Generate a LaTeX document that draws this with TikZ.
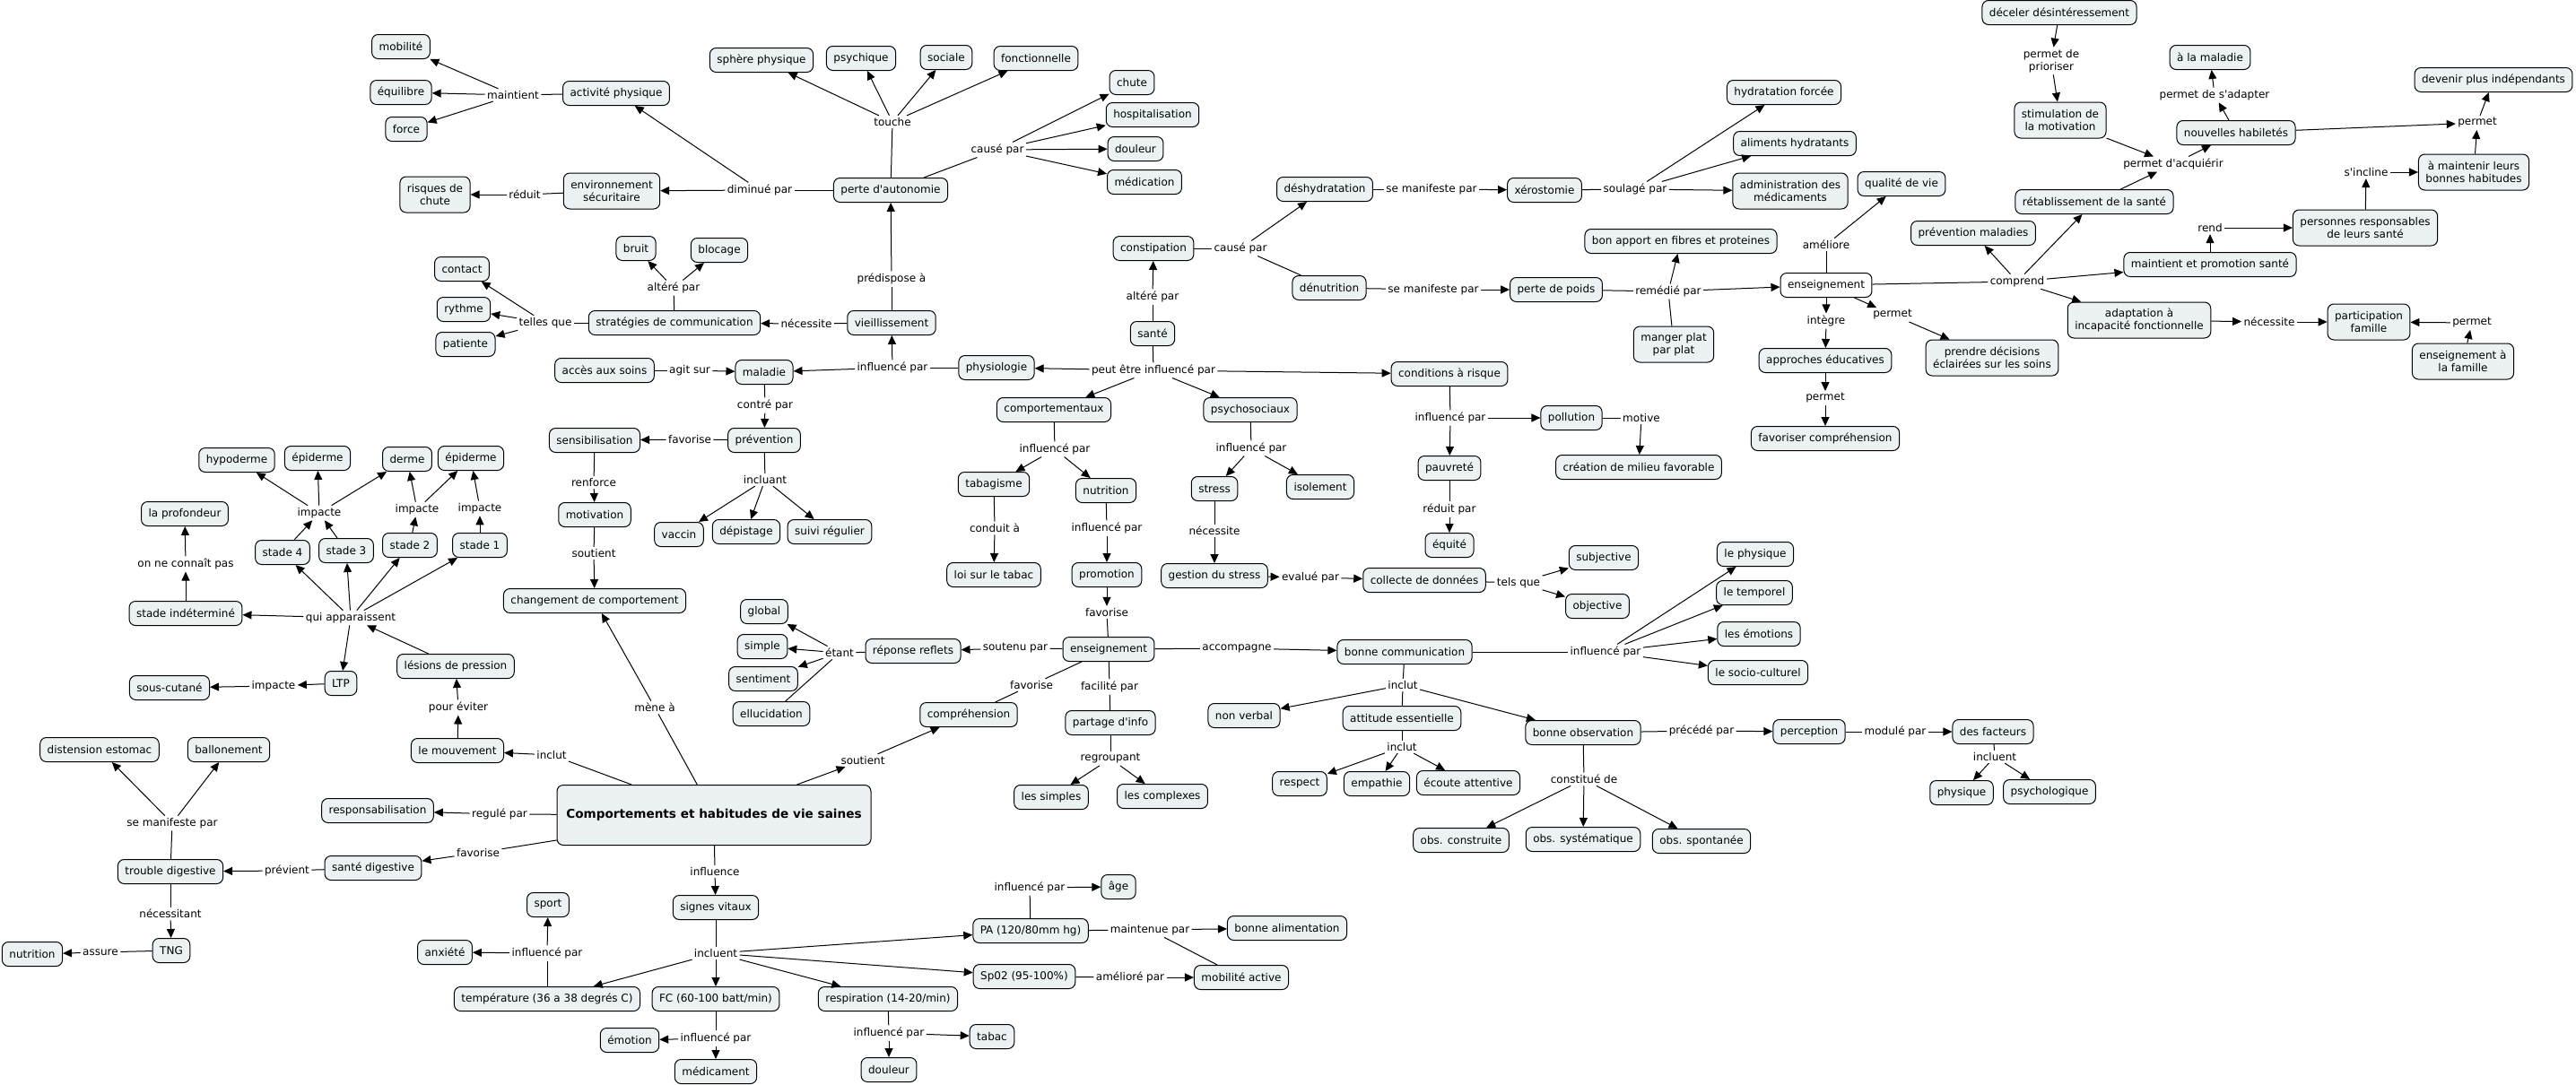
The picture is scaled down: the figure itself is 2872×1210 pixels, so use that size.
\documentclass[tikz,border=0pt]{standalone}
\usepackage{fontspec}
\setmainfont{DejaVu Sans}
\usetikzlibrary{arrows.meta}
\definecolor{cmapfill}{RGB}{236,242,244}
\begin{document}
\begin{tikzpicture}[x=0.5pt,y=-0.5pt,line width=0.5pt,
  >={Triangle[length=5pt,width=4.5pt]},
  concept/.style={draw,rounded corners=3.5pt,fill=cmapfill,inner xsep=4pt,inner ysep=2pt,
    minimum height=13.5pt,align=center,font=\fontsize{6}{7}\selectfont},
  twoline/.style={concept,minimum height=20pt},
  mainconcept/.style={concept,font=\fontsize{6.8}{8}\selectfont\bfseries,minimum width=175pt,minimum height=33.5pt},
  linkph/.style={fill=white,inner sep=1pt,align=center,font=\fontsize{6}{7}\selectfont}]
\useasboundingbox (0,0) rectangle (2872,1210);

\node[concept] (mobilite) at (447,52) {mobilité};
\node[concept] (equilibre) at (447,103) {équilibre};
\node[concept] (force) at (453,144) {force};
\node[concept] (actphys) at (687,104) {activité physique};
\node[twoline] (risques) at (485,217) {risques de\\chute};
\node[twoline] (envsec) at (682,213) {environnement\\sécuritaire};
\node[concept] (bruit) at (709,277) {bruit};
\node[concept] (blocage) at (802,279) {blocage};
\node[concept] (contact) at (515,300) {contact};
\node[concept] (rythme) at (517,345) {rythme};
\node[concept] (patiente) at (519,384) {patiente};
\node[concept] (strat) at (752,360) {stratégies de communication};
\node[concept] (sphere) at (849,67) {sphère physique};
\node[concept] (psychique) at (960,65) {psychique};
\node[concept] (sociale) at (1055,64) {sociale};
\node[concept] (fonction) at (1155,65) {fonctionnelle};
\node[concept] (chute) at (1262,92) {chute};
\node[concept] (hospit) at (1285,128) {hospitalisation};
\node[concept] (douleur) at (1266,166) {douleur};
\node[concept] (medication) at (1276,203) {médication};
\node[concept] (perteauto) at (993,212) {perte d\textquotesingle autonomie};
\node[concept] (vieil) at (994,360) {vieillissement};
\node[concept] (constip) at (1286,277) {constipation};
\node[concept] (sante) at (1285,372) {santé};
\node[concept] (physio) at (1111,410) {physiologie};
\node[concept] (acces) at (674,413) {accès aux soins};
\node[concept] (maladie) at (852,415) {maladie};
\node[concept] (prevention) at (852,491) {prévention};
\node[concept] (sensib) at (663,491) {sensibilisation};
\node[concept] (motivation) at (663,574) {motivation};
\node[concept] (changement) at (663,670) {changement de comportement};
\node[concept] (vaccin) at (757,596) {vaccin};
\node[concept] (depistage) at (832,593) {dépistage};
\node[concept] (suivi) at (925,593) {suivi régulier};
\node[concept] (comport) at (1175,457) {comportementaux};
\node[concept] (psychosoc) at (1394,457) {psychosociaux};
\node[concept] (tabagisme) at (1108,540) {tabagisme};
\node[concept] (nutrition) at (1233,547) {nutrition};
\node[concept] (stress) at (1354,545) {stress};
\node[concept] (isolement) at (1472,543) {isolement};
\node[concept] (loitabac) at (1108,641) {loi sur le tabac};
\node[concept] (promotion) at (1234,641) {promotion};
\node[concept] (gestion) at (1354,642) {gestion du stress};
\node[concept] (global) at (852,682) {global};
\node[concept] (simple) at (850,721) {simple};
\node[concept] (sentiment) at (851,757) {sentiment};
\node[concept] (ellucid) at (860,796) {ellucidation};
\node[concept] (reponse) at (1018,726) {réponse reflets};
\node[concept] (enseign) at (1236,724) {enseignement};
\node[concept] (comprehension) at (1080,797) {compréhension};
\node[concept] (partage) at (1238,806) {partage d\textquotesingle info};
\node[concept] (nonverbal) at (1387,798) {non verbal};
\node[concept] (simples) at (1172,889) {les simples};
\node[concept] (complexes) at (1296,888) {les complexes};
\node[concept] (condrisque) at (1616,417) {conditions à risque};
\node[concept] (pollution) at (1752,466) {pollution};
\node[concept] (creation) at (1827,521) {création de milieu favorable};
\node[concept] (pauvrete) at (1616,522) {pauvreté};
\node[concept] (equite) at (1616,608) {équité};
\node[concept] (collecte) at (1588,647) {collecte de données};
\node[concept] (subjective) at (1788,622) {subjective};
\node[concept] (objective) at (1781,676) {objective};
\node[concept] (lephys) at (1957,618) {le physique};
\node[concept] (letemp) at (1956,661) {le temporel};
\node[concept] (lesemo) at (1961,707) {les émotions};
\node[concept] (lesocio) at (1960,750) {le socio-culturel};
\node[concept] (bonnecomm) at (1566,727) {bonne communication};
\node[concept] (attitude) at (1563,801) {attitude essentielle};
\node[concept] (respect) at (1449,874) {respect};
\node[concept] (empathie) at (1535,874) {empathie};
\node[concept] (ecoute) at (1637,873) {écoute attentive};
\node[concept] (bonneobs) at (1765,817) {bonne observation};
\node[concept] (perception) at (2017,816) {perception};
\node[concept] (facteurs) at (2222,816) {des facteurs};
\node[concept] (physique) at (2187,884) {physique};
\node[concept] (psycholog) at (2285,883) {psychologique};
\node[concept] (obsconst) at (1629,937) {obs. construite};
\node[concept] (obssyst) at (1765,936) {obs. systématique};
\node[concept] (obsspont) at (1897,938) {obs. spontanée};
\node[concept] (deshydra) at (1477,211) {déshydratation};
\node[concept] (xerost) at (1722,212) {xérostomie};
\node[concept] (hydrat) at (1989,103) {hydratation forcée};
\node[concept] (aliments) at (2001,160) {aliments hydratants};
\node[twoline] (adminmed) at (1996,213) {administration des\\médicaments};
\node[concept] (denutri) at (1482,321) {dénutrition};
\node[concept] (perpoids) at (1735,323) {perte de poids};
\node[concept] (bonapport) at (1874,269) {bon apport en fibres et proteines};
\node[twoline] (manger) at (1866,384) {manger plat\\par plat};
\node[concept,fill=white] (enseigndr) at (2036,318) {enseignement};
\node[concept] (qualite) at (2120,205) {qualité de vie};
\node[concept] (approches) at (2035,402) {approches éducatives};
\node[concept] (favcomp) at (2035,489) {favoriser compréhension};
\node[twoline] (decisions) at (2221,399) {prendre décisions\\éclairées sur les soins};
\node[concept] (prevmal) at (2200,260) {prévention maladies};
\node[concept] (retab) at (2335,225) {rétablissement de la santé};
\node[concept] (maintprom) at (2464,295) {maintient et promotion santé};
\node[twoline] (adaptation) at (2385,357) {adaptation à\\incapacité fonctionnelle};
\node[twoline] (participation) at (2641,359) {participation\\famille};
\node[twoline] (ensfamille) at (2746,403) {enseignement à\\la famille};
\node[twoline] (personnes) at (2637,254) {personnes responsables\\de leurs santé};
\node[twoline] (amaintenir) at (2758,192) {à maintenir leurs\\bonnes habitudes};
\node[concept] (devenir) at (2780,89) {devenir plus indépendants};
\node[concept] (habiletes) at (2493,148) {nouvelles habiletés};
\node[concept] (alamaladie) at (2464,64) {à la maladie};
\node[twoline] (stimulation) at (2297,134) {stimulation de\\la motivation};
\node[concept] (deceler) at (2296,14) {déceler désintéressement};
\node[concept] (hypoderme) at (264,513) {hypoderme};
\node[concept] (epiderme) at (354,511) {épiderme};
\node[concept] (derme) at (454,512) {derme};
\node[concept] (epidermeb) at (525,511) {épiderme};
\node[concept] (profondeur) at (206,573) {la profondeur};
\node[concept] (stadeq) at (315,616) {stade 4};
\node[concept] (stadet) at (386,614) {stade 3};
\node[concept] (staded) at (457,608) {stade 2};
\node[concept] (stadeu) at (535,608) {stade 1};
\node[concept] (stadeind) at (207,684) {stade indéterminé};
\node[concept] (ltp) at (380,762) {LTP};
\node[concept] (souscut) at (189,767) {sous-cutané};
\node[concept] (lesions) at (508,743) {lésions de pression};
\node[concept] (mouvement) at (510,837) {le mouvement};
\node[concept] (distension) at (111,836) {distension estomac};
\node[concept] (ballon) at (255,836) {ballonement};
\node[concept] (respons) at (421,904) {responsabilisation};
\node[mainconcept] (main) at (796,909) {Comportements et habitudes de vie saines};
\node[concept] (santedig) at (416,968) {santé digestive};
\node[concept] (trouble) at (190,972) {trouble digestive};
\node[concept] (tng) at (191,1060) {TNG};
\node[concept] (nutritionb) at (36,1064) {nutrition};
\node[concept] (sport) at (611,1009) {sport};
\node[concept] (anxiete) at (496,1062) {anxiété};
\node[concept] (temperature) at (610,1114) {température (36 a 38 degrés C)};
\node[concept] (emotion) at (702,1160) {émotion};
\node[concept] (medicament) at (798,1195) {médicament};
\node[concept] (signes) at (798,1012) {signes vitaux};
\node[concept] (fc) at (798,1114) {FC (60-100 batt/min)};
\node[concept] (respiration) at (990,1114) {respiration (14-20/min)};
\node[concept] (tabac) at (1106,1156) {tabac};
\node[concept] (douleurb) at (991,1193) {douleur};
\node[concept] (pa) at (1149,1038) {PA (120/80mm hg)};
\node[concept] (spo) at (1142,1089) {Sp02 (95-100\%)};
\node[concept] (age) at (1247,989) {âge};
\node[concept] (bonnealim) at (1435,1035) {bonne alimentation};
\node[concept] (mobactive) at (1384,1090) {mobilité active};

\node[linkph] (lmaint) at (572,106) {maintient};
\node[linkph] (lreduit) at (585,217) {réduit};
\node[linkph] (ldimin) at (847,212) {diminué par};
\node[linkph] (ltouche) at (995,136) {touche};
\node[linkph] (lcause) at (1112,167) {causé par};
\node[linkph] (lpredis) at (994,311) {prédispose à};
\node[linkph] (lneces) at (899,361) {nécessite};
\node[linkph] (lalterea) at (751,321) {altéré par};
\node[linkph] (ltelles) at (608,360) {telles que};
\node[linkph] (linflmal) at (995,410) {influencé par};
\node[linkph] (lagit) at (769,413) {agit sur};
\node[linkph] (lpeut) at (1286,413) {peut être influencé par};
\node[linkph] (lalterb) at (1285,331) {altéré par};
\node[linkph] (lcauseb) at (1383,277) {causé par};
\node[linkph] (lcontre) at (853,452) {contré par};
\node[linkph] (lfavsens) at (769,490) {favorise};
\node[linkph] (linclu) at (853,535) {incluant};
\node[linkph] (lrenf) at (662,538) {renforce};
\node[linkph] (lsout) at (662,617) {soutient};
\node[linkph] (linflcomp) at (1176,501) {influencé par};
\node[linkph] (linflpsy) at (1395,500) {influencé par};
\node[linkph] (lconduit) at (1109,589) {conduit à};
\node[linkph] (linflnut) at (1234,589) {influencé par};
\node[linkph] (lnecstress) at (1354,592) {nécessite};
\node[linkph] (lfavprom) at (1234,683) {favorise};
\node[linkph] (levalue) at (1461,644) {evalué par};
\node[linkph] (ltelsque) at (1693,650) {tels que};
\node[linkph] (letant) at (936,728) {étant};
\node[linkph] (lsoutenu) at (1132,723) {soutenu par};
\node[linkph] (laccomp) at (1379,723) {accompagne};
\node[linkph] (lfavcomp) at (1150,764) {favorise};
\node[linkph] (lfacil) at (1237,766) {facilité par};
\node[linkph] (lregroup) at (1238,846) {regroupant};
\node[linkph] (linflcomm) at (1790,727) {influencé par};
\node[linkph] (linclutc) at (1564,764) {inclut};
\node[linkph] (linclutatt) at (1563,833) {inclut};
\node[linkph] (lprecede) at (1897,815) {précédé par};
\node[linkph] (lmodule) at (2113,816) {modulé par};
\node[linkph] (lconstit) at (1766,869) {constitué de};
\node[linkph] (lincluf) at (2224,844) {incluent};
\node[linkph] (linflcond) at (1617,466) {influencé par};
\node[linkph] (lmotive) at (1830,466) {motive};
\node[linkph] (lreduitpar) at (1616,568) {réduit par};
\node[linkph] (lmanifa) at (1596,211) {se manifeste par};
\node[linkph] (lsoulage) at (1823,211) {soulagé par};
\node[linkph] (lmanifb) at (1598,323) {se manifeste par};
\node[linkph] (lremedie) at (1860,325) {remédié par};
\node[linkph] (lameliore) at (2036,273) {améliore};
\node[linkph] (linteg) at (2036,358) {intègre};
\node[linkph] (lpermdec) at (2110,351) {permet};
\node[linkph] (lpermapp) at (2035,444) {permet};
\node[linkph] (lcomprend) at (2249,314) {comprend};
\node[linkph] (lacquer) at (2423,183) {permet d\textquotesingle acquiérir};
\node[linkph] (lprior) at (2287,68) {permet de\\prioriser};
\node[linkph] (ladapt) at (2469,106) {permet de s\textquotesingle adapter};
\node[linkph] (lpermdev) at (2762,137) {permet};
\node[linkph] (lincline) at (2638,192) {s\textquotesingle incline};
\node[linkph] (lrend) at (2464,254) {rend};
\node[linkph] (lnecfam) at (2530,359) {nécessite};
\node[linkph] (lpermfam) at (2756,360) {permet};
\node[linkph] (lmene) at (730,789) {mène à};
\node[linkph] (linclmouv) at (615,842) {inclut};
\node[linkph] (lregule) at (557,908) {regulé par};
\node[linkph] (lfavdig) at (533,951) {favorise};
\node[linkph] (lsoutmain) at (962,848) {soutient};
\node[linkph] (linfluence) at (797,972) {influence};
\node[linkph] (lincluent) at (798,1063) {incluent};
\node[linkph] (linfltemp) at (610,1063) {influencé par};
\node[linkph] (linflfc) at (798,1158) {influencé par};
\node[linkph] (linflresp) at (991,1152) {influencé par};
\node[linkph] (linflpa) at (1148,990) {influencé par};
\node[linkph] (lmaintenue) at (1282,1037) {maintenue par};
\node[linkph] (lamelio) at (1260,1090) {amélioré par};
\node[linkph] (lprevient) at (320,971) {prévient};
\node[linkph] (lmanifc) at (192,918) {se manifeste par};
\node[linkph] (lnecessitant) at (190,1019) {nécessitant};
\node[linkph] (lassure) at (112,1062) {assure};
\node[linkph] (lpourev) at (511,789) {pour éviter};
\node[linkph] (lqui) at (391,689) {qui apparaissent};
\node[linkph] (lonne) at (207,629) {on ne connaît pas};
\node[linkph] (limpltp) at (305,765) {impacte};
\node[linkph] (limpa) at (356,572) {impacte};
\node[linkph] (limpb) at (465,568) {impacte};
\node[linkph] (limpc) at (535,567) {impacte};

\draw (actphys) -- (lmaint);
\path[->] (lmaint) edge (mobilite) edge (equilibre) edge (force);
\draw (envsec) -- (lreduit);
\draw[->] (lreduit) -- (risques);
\draw (perteauto) -- (ldimin);
\path[->] (ldimin) edge (envsec) edge (actphys);
\draw (perteauto) -- (ltouche);
\path[->] (ltouche) edge (sphere) edge (psychique) edge (sociale) edge (fonction);
\draw (perteauto) -- (lcause);
\path[->] (lcause) edge (chute) edge (hospit) edge (douleur) edge (medication);
\draw (vieil) -- (lpredis);
\draw[->] (lpredis) -- (perteauto);
\draw (vieil) -- (lneces);
\draw[->] (lneces) -- (strat);
\draw (strat) -- (lalterea);
\path[->] (lalterea) edge (bruit) edge (blocage);
\draw (strat) -- (ltelles);
\path[->] (ltelles) edge (contact) edge (rythme) edge (patiente);
\draw (physio) -- (linflmal);
\path[->] (linflmal) edge (maladie) edge (vieil);
\draw (acces) -- (lagit);
\draw[->] (lagit) -- (maladie);
\draw (sante) -- (lpeut);
\path[->] (lpeut) edge (physio) edge (comport) edge (psychosoc) edge (condrisque);
\draw (sante) -- (lalterb);
\draw[->] (lalterb) -- (constip);
\draw (constip) -- (lcauseb);
\draw[->] (lcauseb) -- (deshydra);
\draw (lcauseb) -- (denutri);
\draw (maladie) -- (lcontre);
\draw[->] (lcontre) -- (prevention);
\draw (prevention) -- (lfavsens);
\draw[->] (lfavsens) -- (sensib);
\draw (prevention) -- (linclu);
\path[->] (linclu) edge (vaccin) edge (depistage) edge (suivi);
\draw (sensib) -- (lrenf);
\draw[->] (lrenf) -- (motivation);
\draw (motivation) -- (lsout);
\draw[->] (lsout) -- (changement);
\draw (comport) -- (linflcomp);
\path[->] (linflcomp) edge (tabagisme) edge (nutrition);
\draw (tabagisme) -- (lconduit);
\draw[->] (lconduit) -- (loitabac);
\draw (nutrition) -- (linflnut);
\draw[->] (linflnut) -- (promotion);
\draw[->] (promotion) -- (lfavprom);
\draw (lfavprom) -- (enseign);
\draw (psychosoc) -- (linflpsy);
\path[->] (linflpsy) edge (stress) edge (isolement);
\draw (stress) -- (lnecstress);
\draw[->] (lnecstress) -- (gestion);
\draw[->] (gestion) -- (levalue);
\draw[->] (levalue) -- (collecte);
\draw (collecte) -- (ltelsque);
\path[->] (ltelsque) edge (subjective) edge (objective);
\draw (condrisque) -- (linflcond);
\path[->] (linflcond) edge (pollution) edge (pauvrete);
\draw (pollution) -- (lmotive);
\draw[->] (lmotive) -- (creation);
\draw (pauvrete) -- (lreduitpar);
\draw[->] (lreduitpar) -- (equite);
\draw (enseign) -- (lsoutenu);
\draw[->] (lsoutenu) -- (reponse);
\draw (reponse) -- (letant);
\path[->] (letant) edge (global) edge (simple) edge (sentiment);
\draw (ellucid) -- (letant);
\draw (enseign) -- (lfavcomp);
\draw (lfavcomp) -- (comprehension);
\draw (enseign) -- (lfacil);
\draw (lfacil) -- (partage);
\draw (partage) -- (lregroup);
\path[->] (lregroup) edge (simples) edge (complexes);
\draw (enseign) -- (laccomp);
\draw[->] (laccomp) -- (bonnecomm);
\draw (bonnecomm) -- (linflcomm);
\path[->] (linflcomm) edge (lephys) edge (letemp) edge (lesemo) edge (lesocio);
\draw (bonnecomm) -- (linclutc);
\path[->] (linclutc) edge (nonverbal) edge (bonneobs);
\draw (attitude) -- (linclutc);
\draw (attitude) -- (linclutatt);
\path[->] (linclutatt) edge (respect) edge (empathie) edge (ecoute);
\draw (bonneobs) -- (lprecede);
\draw[->] (lprecede) -- (perception);
\draw (perception) -- (lmodule);
\draw[->] (lmodule) -- (facteurs);
\draw (facteurs) -- (lincluf);
\path[->] (lincluf) edge (physique) edge (psycholog);
\draw (bonneobs) -- (lconstit);
\path[->] (lconstit) edge (obsconst) edge (obssyst) edge (obsspont);

\draw (deshydra) -- (lmanifa);
\draw[->] (lmanifa) -- (xerost);
\draw (xerost) -- (lsoulage);
\path[->] (lsoulage) edge (hydrat) edge (aliments) edge (adminmed);
\draw (denutri) -- (lmanifb);
\draw[->] (lmanifb) -- (perpoids);
\draw (perpoids) -- (lremedie);
\path[->] (lremedie) edge (enseigndr) edge (bonapport);
\draw (manger) -- (lremedie);
\draw (enseigndr) -- (lameliore);
\draw[->] (lameliore) -- (qualite);
\draw[->] (enseigndr) -- (linteg);
\draw[->] (linteg) -- (approches);
\draw[->] (enseigndr) -- (lpermdec);
\draw[->] (lpermdec) -- (decisions);
\draw[->] (approches) -- (lpermapp);
\draw[->] (lpermapp) -- (favcomp);
\draw (enseigndr) -- (lcomprend);
\path[->] (lcomprend) edge (prevmal) edge (retab) edge (maintprom) edge (adaptation);
\path[->] (retab) edge (lacquer) (stimulation) edge (lacquer);
\draw[->] (lacquer) -- (habiletes);
\draw[->] (deceler) -- (lprior);
\draw[->] (lprior) -- (stimulation);
\draw[->] (habiletes) -- (ladapt);
\draw[->] (ladapt) -- (alamaladie);
\path[->] (habiletes) edge (lpermdev) (amaintenir) edge (lpermdev);
\draw[->] (lpermdev) -- (devenir);
\draw[->] (maintprom) -- (lrend);
\draw[->] (lrend) -- (personnes);
\draw[->] (personnes) -- (lincline);
\draw[->] (lincline) -- (amaintenir);
\draw[->] (adaptation) -- (lnecfam);
\draw[->] (lnecfam) -- (participation);
\draw[->] (ensfamille) -- (lpermfam);
\draw[->] (lpermfam) -- (participation);

\draw (main) -- (lmene);
\draw[->] (lmene) -- (changement);
\draw (main) -- (linclmouv);
\draw[->] (linclmouv) -- (mouvement);
\draw[->] (mouvement) -- (lpourev);
\draw[->] (lpourev) -- (lesions);
\draw[->] (lesions) -- (lqui);
\path[->] (lqui) edge (stadeq) edge (stadet) edge (staded) edge (stadeu) edge (stadeind) edge (ltp);
\path[->] (stadeq) edge (limpa) (stadet) edge (limpa);
\path[->] (limpa) edge (hypoderme) edge (epiderme) edge (derme);
\draw[->] (staded) -- (limpb);
\path[->] (limpb) edge (derme) edge (epidermeb);
\draw[->] (stadeu) -- (limpc);
\draw[->] (limpc) -- (epidermeb);
\draw[->] (stadeind) -- (lonne);
\draw[->] (lonne) -- (profondeur);
\draw[->] (ltp) -- (limpltp);
\draw[->] (limpltp) -- (souscut);
\draw (main) -- (lregule);
\draw[->] (lregule) -- (respons);
\draw (main) -- (lfavdig);
\draw[->] (lfavdig) -- (santedig);
\draw (santedig) -- (lprevient);
\draw[->] (lprevient) -- (trouble);
\draw (trouble) -- (lmanifc);
\path[->] (lmanifc) edge (distension) edge (ballon);
\draw (trouble) -- (lnecessitant);
\draw[->] (lnecessitant) -- (tng);
\draw (tng) -- (lassure);
\draw[->] (lassure) -- (nutritionb);
\draw[->] (main) -- (lsoutmain);
\draw[->] (lsoutmain) -- (comprehension);
\draw (main) -- (linfluence);
\draw[->] (linfluence) -- (signes);
\draw (signes) -- (lincluent);
\path[->] (lincluent) edge (temperature) edge (fc) edge (respiration) edge (pa) edge (spo);
\draw (temperature) -- (linfltemp);
\path[->] (linfltemp) edge (anxiete) edge (sport);
\draw (fc) -- (linflfc);
\path[->] (linflfc) edge (emotion) edge (medicament);
\draw (respiration) -- (linflresp);
\path[->] (linflresp) edge (tabac) edge (douleurb);
\draw (pa) -- (linflpa);
\draw[->] (linflpa) -- (age);
\draw (pa) -- (lmaintenue);
\draw[->] (lmaintenue) -- (bonnealim);
\draw (mobactive) -- (lmaintenue);
\draw (spo) -- (lamelio);
\draw[->] (lamelio) -- (mobactive);
\end{tikzpicture}
\end{document}
